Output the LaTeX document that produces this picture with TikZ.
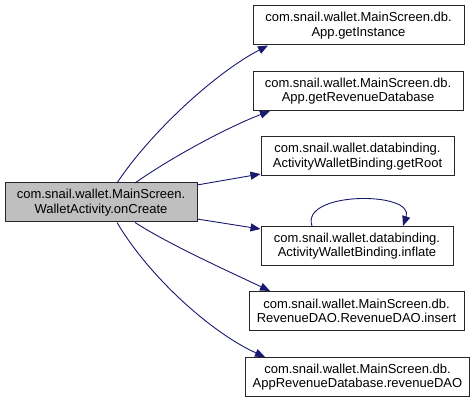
\documentclass[tikz,border=0pt]{standalone}
\usepackage{fontspec}
\setmainfont{Liberation Sans}
\usetikzlibrary{arrows.meta}
\definecolor{edgeblue}{HTML}{191970}
\begin{document}
\begin{tikzpicture}[x=1pt,y=-1pt,
  box/.style={draw=black!85,line width=1pt,fill=white,inner sep=0pt,align=center,
    font=\fontsize{13}{14.5}\selectfont,minimum height=39pt},
  mainbox/.style={box,fill=black!25},
  call/.style={draw=edgeblue,line width=0.9pt,-{Triangle[length=10pt,width=8pt]}}]
\useasboundingbox (0,0) rectangle (476,403);
\node[mainbox,minimum width=192pt] (main) at (101,202.5) {com.snail.wallet.MainScreen.\\WalletActivity.onCreate};
\node[box,minimum width=211pt] (n1) at (358.5,25.5) {com.snail.wallet.MainScreen.db.\\App.getInstance};
\node[box,minimum width=210pt] (n2) at (358,91) {com.snail.wallet.MainScreen.db.\\App.getRevenueDatabase};
\node[box,minimum width=193pt] (n3) at (357.5,156.5) {com.snail.wallet.databinding.\\ActivityWalletBinding.getRoot};
\node[box,minimum width=192pt] (n4) at (357,246) {com.snail.wallet.databinding.\\ActivityWalletBinding.inflate};
\node[box,minimum width=215pt] (n5) at (356.5,311) {com.snail.wallet.MainScreen.db.\\RevenueDAO.RevenueDAO.insert};
\node[box,minimum width=224pt] (n6) at (357.5,377) {com.snail.wallet.MainScreen.db.\\AppRevenueDatabase.revenueDAO};
\coordinate (m1) at (117,183);
\coordinate (m2) at (135,183);
\coordinate (m3) at (197,185);
\coordinate (m4) at (197,219);
\coordinate (m5) at (135,222.5);
\coordinate (m6) at (117,222.5);
\draw[call] (m1) .. controls (150,133) and (215,73) .. (n1.south west -| 268,0);
\draw[call] (m2) .. controls (172,157) and (228,127) .. (n2.south west -| 270,0);
\draw[call] (m3) -- (n3.west |- 0,174);
\draw[call] (m4) -- (n4.west |- 0,229);
\draw[call] (m5) .. controls (170,245) and (230,272) .. (n5.north west -| 270,0);
\draw[call] (m6) .. controls (150,278) and (212,333) .. (n6.north west -| 265,0);
\draw[call] (n4.north west -| 312,0) .. controls (300,191) and (415,191) .. (n4.north west -| 403,0);
\end{tikzpicture}
\end{document}
